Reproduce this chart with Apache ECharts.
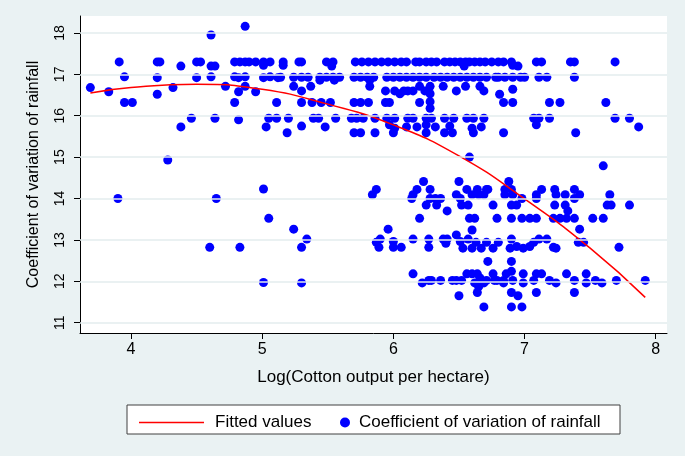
<!DOCTYPE html>
<html><head><meta charset="utf-8">
<script src="https://cdn.jsdelivr.net/npm/echarts@6/dist/echarts.min.js"></script>
<style>html,body{margin:0;padding:0;background:#eaf2f3;}#c{width:685px;height:456px;}</style>
</head><body><div id="c"></div>
<script>
const xTicks = [4, 5, 6, 7, 8];
const yTicks = [11, 12, 13, 14, 15, 16, 17, 18];

const fittedX = [3.69, 4.0, 4.5, 5.0, 5.5, 6.0, 6.5, 7.0, 7.5, 7.92];
const fittedY = [16.55, 16.68, 16.76, 16.64, 16.28, 15.78, 15.03, 13.99, 12.8, 11.61];

const upperLeft = [[3.69,16.68],[3.83,16.58],[3.91,17.30],[3.95,16.94],[3.95,16.32],[4.01,16.32],[4.20,17.30],[4.22,17.30],[4.20,16.92],[4.20,16.52],[4.32,16.68],[4.38,17.20],[4.38,15.73],[4.46,15.94],[4.28,14.93],[4.50,17.30],[4.53,17.30],[4.50,16.92],[4.61,17.95],[4.61,17.20],[4.64,17.20],[4.61,16.94],[4.64,15.94],[4.72,16.71],[4.87,18.16],[4.79,17.30],[4.83,17.30],[4.87,17.30],[4.90,17.30],[4.95,17.30],[4.79,16.94],[4.82,16.92],[4.87,16.94],[4.87,16.71],[4.82,16.58],[4.95,16.58],[4.79,16.32],[4.82,15.90],[5.01,17.30],[5.06,17.30],[5.01,17.22],[5.01,16.92],[5.06,16.94],[5.12,16.92],[5.11,16.32],[5.05,15.94],[5.11,15.94],[5.03,15.73]];

const upperMid = [[5.16,17.30],[5.28,17.30],[5.30,17.30],[5.49,17.30],[5.54,17.30],[5.71,17.30],[5.76,17.30],[5.81,17.30],[5.86,17.30],[5.91,17.30],[5.96,17.30],[6.01,17.30],[6.06,17.30],[6.10,17.30],[6.17,17.30],[6.20,17.30],[6.25,17.30],[6.29,17.30],[6.33,17.30],[6.39,17.30],[6.43,17.30],[6.47,17.30],[6.51,17.30],[6.55,17.30],[6.58,17.30],[6.62,17.30],[6.66,17.30],[6.70,17.30],[6.75,17.30],[6.80,17.30],
[5.16,17.22],[5.53,17.20],[6.54,17.20],
[5.14,16.93],[5.24,16.93],[5.30,16.93],[5.35,16.93],[5.44,16.93],[5.49,16.93],[5.54,16.93],[5.59,16.93],[5.70,16.93],[5.75,16.93],[5.80,16.93],[5.85,16.93],[5.95,16.93],[6.00,16.93],[6.05,16.93],[6.10,16.93],[6.15,16.93],[6.20,16.93],[6.25,16.93],[6.31,16.93],[6.36,16.93],[6.41,16.93],[6.46,16.93],[6.51,16.93],[6.56,16.93],[6.61,16.93],[6.66,16.93],[6.71,16.93],[6.78,16.93],
[5.44,16.86],[5.55,16.86],[5.82,16.86],
[5.24,16.71],[5.37,16.71],[5.82,16.71],[6.20,16.71],[6.28,16.71],[6.38,16.71],[6.55,16.71],[6.66,16.71],
[5.30,16.60],[5.94,16.60],[6.01,16.60],[6.08,16.60],[6.11,16.60],[6.15,16.60],[6.24,16.60],[6.48,16.60],[6.69,16.60],
[6.05,16.53],[6.28,16.53],[6.28,16.34],[6.28,16.18],
[5.30,16.32],[5.38,16.32],[5.45,16.32],[5.52,16.32],[5.70,16.32],[5.75,16.32],[5.81,16.32],[5.94,16.32],[5.97,16.32],[6.20,16.32],
[5.20,15.94],[5.39,15.94],[5.43,15.94],[5.56,15.94],[5.68,15.94],[5.72,15.94],[5.77,15.94],[5.86,15.94],[5.95,15.94],[6.01,15.94],[6.11,15.94],[6.15,15.94],[6.25,15.94],[6.29,15.94],[6.39,15.94],[6.46,15.94],[6.56,15.94],[6.61,15.94],[6.69,15.94],
[5.30,15.75],[5.48,15.73],[5.97,15.78],[6.01,15.70],[6.10,15.73],[6.18,15.73],[6.25,15.78],[6.32,15.73],[6.43,15.75],[6.60,15.70],[6.67,15.73],
[5.19,15.59],[5.70,15.59],[5.75,15.59],[5.86,15.59],[6.00,15.59],[6.25,15.59],[6.39,15.59],[6.45,15.59],[6.61,15.59],
[6.58,15.00]];

const upperRight = [[6.84,17.30],[6.90,17.30],[7.09,17.30],[7.13,17.30],[7.35,17.30],[7.38,17.30],[7.69,17.30],[6.91,17.22],[6.95,17.20],
[6.80,16.93],[6.85,16.93],[6.91,16.93],[6.97,16.93],[7.00,16.93],[7.11,16.93],[7.17,16.93],[7.38,16.93],
[6.91,16.64],[6.81,16.52],
[6.84,16.32],[6.91,16.32],[7.19,16.32],[7.27,16.32],[7.62,16.32],
[7.07,15.94],[7.11,15.94],[7.19,15.94],[7.69,15.94],[7.80,15.94],
[7.09,15.78],[7.87,15.73],[6.84,15.59],[7.39,15.59],[7.60,14.79]];

const lowerLeft = [[3.90,14.00],[4.65,14.00],[5.01,14.23],[5.05,13.52],[4.60,12.82],[4.83,12.82],[5.01,11.97]];

const lowerMid = [[5.24,13.26],[5.34,13.02],[5.30,12.82],[5.30,11.96],[5.84,14.09],[5.87,14.22],[5.87,12.94],[5.90,13.02],[5.89,12.82],[5.96,13.26],[6.00,12.96],[6.00,12.82],[6.06,12.82],[6.15,13.02],[6.15,12.18],[6.14,14.00],[6.15,14.09],[6.18,14.22],[6.23,14.41],[6.20,13.52],[6.22,11.96],[6.27,12.02],[6.29,12.02],[6.28,14.22],[6.25,13.84],[6.28,14.00],[6.32,14.00],[6.36,14.00],[6.33,13.84],[6.27,13.02],[6.27,12.82],[6.36,12.02],[6.41,13.70],[6.38,13.02],[6.41,13.02],[6.40,12.92],[6.45,12.02],[6.48,12.02],[6.52,12.02],[6.50,14.41],[6.48,14.09],[6.51,14.00],[6.52,13.84],[6.56,14.22],[6.57,13.84],[6.60,14.09],[6.64,14.22],[6.65,14.09],[6.69,14.09],[6.72,14.22],[6.76,13.84],[6.79,13.52],[6.58,13.52],[6.62,13.52],[6.60,13.24],[6.48,13.12],[6.51,12.96],[6.53,12.80],[6.57,13.02],[6.60,12.80],[6.63,12.94],[6.67,12.80],[6.71,12.94],[6.76,12.80],[6.80,12.94],[6.72,12.48],
[6.56,12.18],[6.60,12.18],[6.64,12.18],[6.66,12.08],[6.69,11.96],[6.71,12.02],[6.76,12.18],[6.79,12.02],[6.62,11.96],[6.65,11.87],
[6.50,11.65],[6.64,11.73],[6.69,11.38]];

const lowerRight = [[6.88,14.41],[6.85,14.22],[6.90,14.22],[6.71,14.22],[6.85,14.09],[6.91,14.09],[6.98,14.00],[7.09,14.09],[7.09,14.00],[7.13,14.22],[7.23,14.22],[7.24,14.09],[7.31,14.09],[7.38,14.22],[7.38,14.00],[7.42,14.09],[7.65,14.09],[7.63,13.84],[7.66,13.84],[7.80,13.84],[6.90,13.84],[6.94,13.84],[7.23,13.84],[7.31,13.84],[7.33,13.70],
[6.90,13.52],[6.98,13.52],[7.04,13.52],[7.09,13.52],[7.22,13.52],[7.27,13.52],[7.32,13.52],[7.38,13.52],[7.52,13.52],[7.60,13.52],[7.42,13.26],[7.41,12.94],[7.45,12.94],[7.72,12.82],
[6.90,13.02],[6.89,12.80],[6.94,12.84],[6.99,12.80],[7.04,12.84],[7.07,12.94],[7.11,13.02],[7.17,13.02],[7.22,12.82],[7.24,12.80],[6.90,12.48],
[6.86,12.18],[6.90,12.24],[6.99,12.18],[7.09,12.18],[7.13,12.18],[7.32,12.18],[7.47,12.18],
[6.77,12.02],[6.84,12.02],[6.91,12.02],[7.07,12.02],[7.19,12.02],[7.38,12.02],[7.54,12.02],[7.70,12.02],[7.92,12.02],
[6.84,11.96],[6.99,11.96],[7.24,11.96],[7.47,11.96],[7.59,11.96],
[6.90,11.73],[7.09,11.73],[7.38,11.73],[6.95,11.65],[6.90,11.38],[6.98,11.38]];

const cvPoints = [].concat(upperLeft, upperMid, upperRight, lowerLeft, lowerMid, lowerRight);
const fitted = fittedX.map((x, i) => [x, fittedY[i]]);

const FONT = '"Liberation Sans", Arial, Helvetica, sans-serif';
const chart = echarts.init(document.getElementById('c'), null, {renderer: 'canvas'});
chart.setOption({
  animation: false,
  backgroundColor: '#eaf2f3',
  textStyle: {fontFamily: FONT, color: '#000'},
  grid: {left: 80, right: 18, top: 16, bottom: 123, show: true, backgroundColor: '#ffffff', borderWidth: 0},
  xAxis: {
    type: 'value', min: 3.611, max: 8.086,
    axisLine: {show: true, lineStyle: {color: '#000', width: 1}},
    axisTick: {show: true, customValues: xTicks, length: 6, lineStyle: {color: '#000'}},
    axisLabel: {customValues: xTicks, fontSize: 16, color: '#000', margin: 9, fontFamily: FONT},
    splitLine: {show: false},
    name: 'Log(Cotton output per hectare)', nameLocation: 'middle', nameGap: 36, nameMoveOverlap: false,
    nameTextStyle: {fontSize: 17, color: '#000', fontFamily: FONT}
  },
  yAxis: {
    type: 'value', min: 10.75, max: 18.41,
    axisLine: {show: true, lineStyle: {color: '#000', width: 1}},
    axisTick: {show: true, customValues: yTicks, length: 6, lineStyle: {color: '#000'}},
    axisLabel: {customValues: yTicks, rotate: 90, fontSize: 14, color: '#000', margin: 13, fontFamily: FONT},
    splitLine: {show: false},
    name: 'Coefficient of variation of rainfall', nameLocation: 'middle', nameGap: 38, nameMoveOverlap: false,
    nameTextStyle: {fontSize: 16, color: '#000', fontFamily: FONT}
  },
  graphic: [{type: 'rect', z: 0, silent: true, shape: {x: 127, y: 405, width: 493, height: 29}, style: {fill: '#ffffff', stroke: '#404040', lineWidth: 1}}],
  legend: [
    {data: [{name: 'Fitted values', icon: 'rect'}], left: 134, top: 409, itemWidth: 65, itemHeight: 1.5, selectedMode: false,
     textStyle: {fontSize: 17, color: '#000', fontFamily: FONT, padding: [0, 0, 0, 6]}},
    {data: ['Coefficient of variation of rainfall'], left: 335, top: 409, itemWidth: 10, itemHeight: 10, icon: 'circle', selectedMode: false,
     textStyle: {fontSize: 17, color: '#000', fontFamily: FONT, padding: [0, 0, 0, 4]}}
  ],
  series: [
    {name: 'grid', type: 'line', data: [], silent: true, z: 1,
     markLine: {silent: true, symbol: ['none', 'none'], label: {show: false}, animation: false,
       lineStyle: {color: '#e3ecee', width: 1.5, type: 'solid'},
       data: yTicks.map(v => ({yAxis: v}))}},
    {name: 'Coefficient of variation of rainfall', type: 'scatter', data: cvPoints, symbol: 'circle', symbolSize: 9, z: 2,
     itemStyle: {color: '#0000ff', opacity: 1}},
    {name: 'Fitted values', type: 'line', data: fitted, smooth: true, symbol: 'none', z: 3,
     lineStyle: {color: '#ff0000', width: 1.5}, itemStyle: {color: '#ff0000'}}
  ]
});
</script></body></html>
